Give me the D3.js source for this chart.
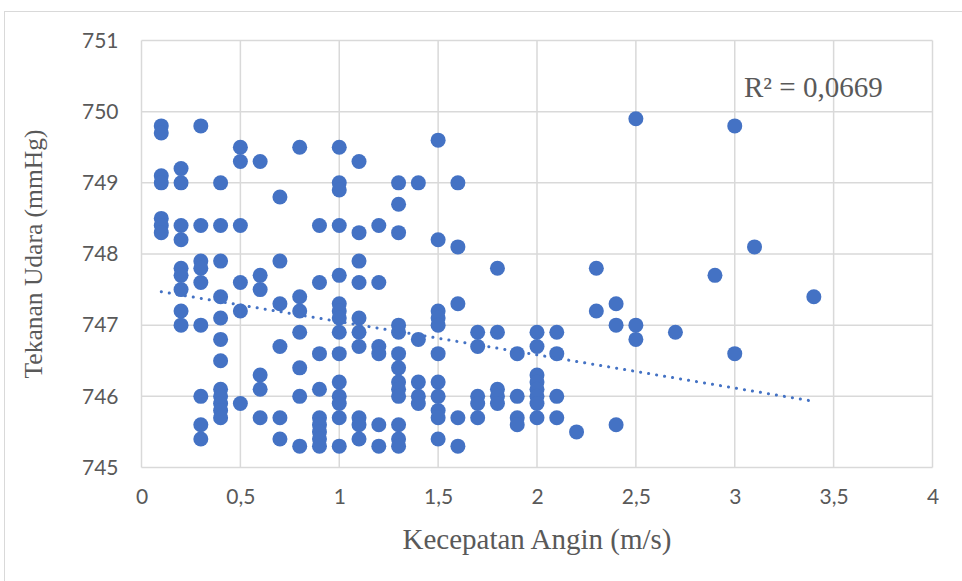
<!DOCTYPE html>
<html lang="id">
<head>
    <meta charset="UTF-8">
    <title>Kecepatan Angin vs Tekanan Udara</title>
    <style>
        body {
            margin: 0;
            background: #ffffff;
            overflow: hidden;
        }
        svg {
            display: block;
        }
        .tick text {
            font-family: Lato, "Open Sans", sans-serif;
            font-size: 21px;
            fill: #595959;
        }
        .axis-title, .r2 {
            font-family: "Liberation Serif", "Times New Roman", serif;
            font-size: 29px;
            fill: #595959;
        }
        .y-title {
            font-size: 25.5px;
        }
    </style>
</head>
<body>
    <svg id="chart" width="962" height="581"></svg>

    <script src="https://d3js.org/d3.v7.min.js"></script>
    <script>
        // distinct wind speeds and the pressures measured at each one
        const kecepatanAngin = [0.1, 0.2, 0.3, 0.4, 0.5, 0.6, 0.7, 0.8, 0.9, 1.0,
                                1.1, 1.2, 1.3, 1.4, 1.5, 1.6, 1.7, 1.8, 1.9, 2.0,
                                2.1, 2.2, 2.3, 2.4, 2.5, 2.7, 2.9, 3.0, 3.1, 3.4];
        const tekananUdara = [
            [749.8, 749.7, 749.1, 749.0, 748.5, 748.4, 748.3],
            [749.2, 749.0, 748.4, 748.2, 747.8, 747.7, 747.5, 747.2, 747.0],
            [749.8, 748.4, 747.9, 747.8, 747.6, 747.0, 746.0, 745.6, 745.4],
            [749.0, 748.4, 747.9, 747.4, 747.1, 746.8, 746.5, 746.1, 746.0, 745.9, 745.8, 745.7],
            [749.5, 749.3, 748.4, 747.6, 747.2, 745.9],
            [749.3, 747.7, 747.5, 746.3, 746.1, 745.7],
            [748.8, 747.9, 747.3, 746.7, 745.7, 745.4],
            [749.5, 747.4, 747.2, 746.9, 746.4, 746.0, 745.3],
            [748.4, 747.6, 746.6, 746.1, 745.7, 745.6, 745.5, 745.4, 745.3],
            [749.5, 749.0, 748.9, 748.4, 747.7, 747.3, 747.2, 747.1, 746.9, 746.6, 746.2, 746.0, 745.9, 745.7, 745.3],
            [749.3, 748.3, 747.9, 747.6, 747.1, 746.9, 746.7, 745.7, 745.6, 745.4],
            [748.4, 747.6, 746.7, 746.6, 745.6, 745.3],
            [749.0, 748.7, 748.3, 747.0, 746.9, 746.6, 746.4, 746.2, 746.1, 746.0, 745.6, 745.4, 745.3],
            [749.0, 746.8, 746.2, 746.0, 745.9],
            [749.6, 748.2, 747.2, 747.1, 747.0, 746.6, 746.2, 746.0, 745.8, 745.7, 745.4],
            [749.0, 748.1, 747.3, 745.7, 745.3],
            [746.9, 746.7, 746.0, 745.9, 745.7],
            [747.8, 746.9, 746.1, 746.0, 745.9],
            [746.6, 746.0, 745.7, 745.6],
            [746.9, 746.7, 746.3, 746.2, 746.1, 746.0, 745.9, 745.7],
            [746.9, 746.6, 746.0, 745.7],
            [745.5],
            [747.8, 747.2],
            [747.3, 747.0, 745.6],
            [749.9, 747.0, 746.8],
            [746.9],
            [747.7],
            [749.8, 746.6],
            [748.1],
            [747.4]
        ];

        // linear trendline end points
        const trendX = [0.1, 3.4];
        const trendY = [747.47, 745.93];

        const xTicks = [0, 0.5, 1, 1.5, 2, 2.5, 3, 3.5, 4];
        const yTicks = [745, 746, 747, 748, 749, 750, 751];
        const r2Label = "R² = 0,0669";

        const margin = { top: 40.5, right: 29.5, bottom: 113.5, left: 141.5 },
              width = 962 - margin.left - margin.right,
              height = 581 - margin.top - margin.bottom;

        const root = d3.select("#chart");

        // chart area border (runs off the right and bottom of the picture)
        root.append("rect")
            .attr("x", 4.5)
            .attr("y", 11.5)
            .attr("width", 1000)
            .attr("height", 1000)
            .attr("fill", "none")
            .attr("stroke", "#d9d9d9")
            .attr("stroke-width", 1);

        const svg = root.append("g")
            .attr("transform", `translate(${margin.left},${margin.top})`);

        const x = d3.scaleLinear().domain([0, 4]).range([0, width]);
        const y = d3.scaleLinear().domain([745, 751]).range([height, 0]);

        const fmt = d => String(d).replace(".", ",");

        // gridlines
        svg.append("g")
            .selectAll("line")
            .data(xTicks)
            .join("line")
            .attr("x1", d => x(d)).attr("x2", d => x(d))
            .attr("y1", 0).attr("y2", height)
            .attr("stroke", "#d9d9d9")
            .attr("stroke-width", 1.5);

        svg.append("g")
            .selectAll("line")
            .data(yTicks)
            .join("line")
            .attr("x1", 0).attr("x2", width)
            .attr("y1", d => y(d)).attr("y2", d => y(d))
            .attr("stroke", "#d9d9d9")
            .attr("stroke-width", 1.5);

        // axes (labels only, gridlines drawn above)
        const xAxis = svg.append("g")
            .attr("transform", `translate(0,${height})`)
            .call(d3.axisBottom(x).tickValues(xTicks).tickFormat(fmt).tickSize(0).tickPadding(22));
        xAxis.select(".domain").remove();

        const yAxis = svg.append("g")
            .call(d3.axisLeft(y).tickValues(yTicks).tickFormat(fmt).tickSize(0).tickPadding(23));
        yAxis.select(".domain").remove();

        // points
        const points = kecepatanAngin.flatMap((k, i) => tekananUdara[i].map(t => ({ k, t })));

        svg.append("g")
            .selectAll("circle")
            .data(points)
            .join("circle")
            .attr("cx", d => x(d.k))
            .attr("cy", d => y(d.t))
            .attr("r", 7.5)
            .attr("fill", "#4472c4");

        // dotted trendline
        svg.append("path")
            .datum(trendX.map((d, i) => [d, trendY[i]]))
            .attr("fill", "none")
            .attr("stroke", "#4472c4")
            .attr("stroke-width", 3)
            .attr("stroke-linecap", "round")
            .attr("stroke-dasharray", "0.1 8")
            .attr("d", d3.line().x(d => x(d[0])).y(d => y(d[1])));

        // R² label
        svg.append("text")
            .attr("class", "r2")
            .attr("x", x(3.047))
            .attr("y", y(750.2))
            .text(r2Label);

        // axis titles
        svg.append("text")
            .attr("class", "axis-title")
            .attr("x", width / 2)
            .attr("y", height + 81)
            .attr("text-anchor", "middle")
            .text("Kecepatan Angin (m/s)");

        svg.append("text")
            .attr("class", "axis-title y-title")
            .attr("transform", "rotate(-90)")
            .attr("x", -height / 2)
            .attr("y", -margin.left + 42)
            .attr("text-anchor", "middle")
            .text("Tekanan Udara (mmHg)");
    </script>
</body>
</html>
